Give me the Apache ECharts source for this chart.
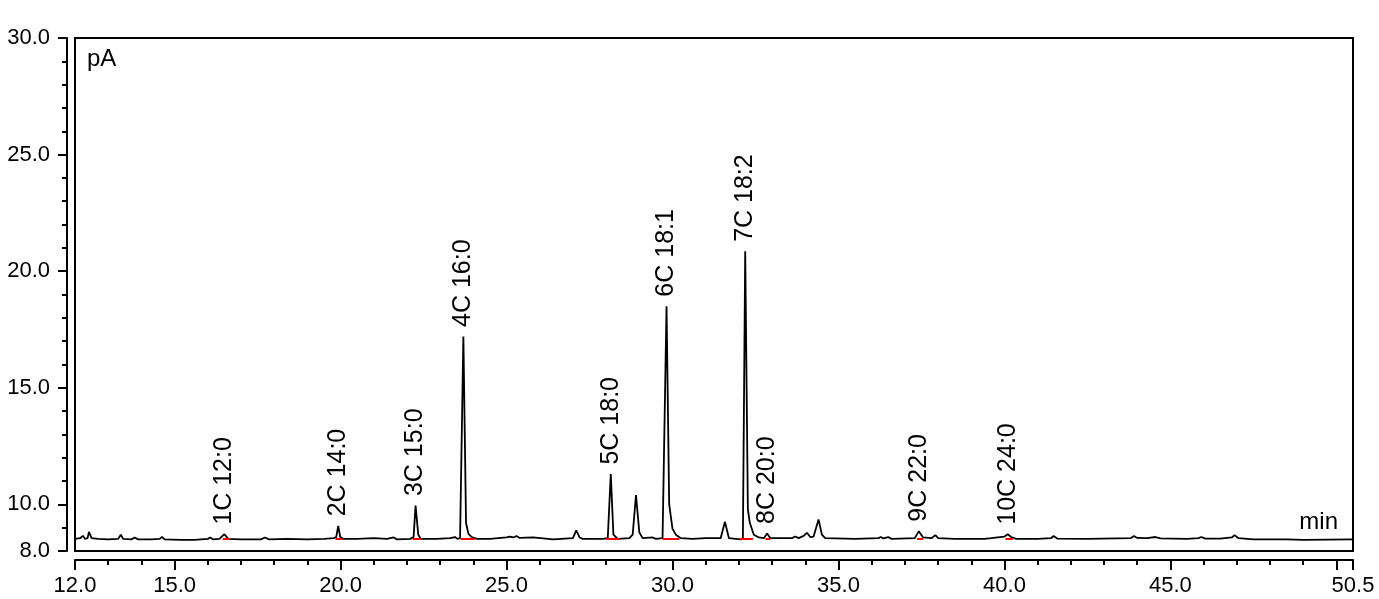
<!DOCTYPE html>
<html>
<head>
<meta charset="utf-8">
<script src="https://cdn.jsdelivr.net/npm/echarts@6/dist/echarts.min.js"></script>
<style>
  html, body { margin: 0; padding: 0; background: #fff; }
  #chart { width: 1379px; height: 599px; }
</style>
</head>
<body>
<div id="chart"></div>
<script>
// chromatogram trace (retention time in min, signal in pA)
const traceTime = [
  12.0, 12.15, 12.24, 12.3, 12.38, 12.42, 12.5, 12.7, 13.0, 13.3, 13.38, 13.45, 13.7, 13.8, 13.9,
  14.3, 14.55, 14.62, 14.7, 15.2, 15.6, 16.0, 16.08, 16.15, 16.35, 16.5, 16.62, 17.0, 17.6, 17.72,
  17.85, 18.4, 19.0, 19.5, 19.8, 19.87, 19.93, 19.99, 20.08, 20.5, 21.0, 21.4, 21.6, 21.7, 22.1,
  22.2, 22.26, 22.34, 22.42, 22.9, 23.3, 23.45, 23.52, 23.6, 23.7, 23.78, 23.85, 23.95, 24.1, 24.5,
  25.0, 25.1, 25.2, 25.3, 25.4, 25.8, 25.85, 26.4, 27.0, 27.1, 27.2, 27.3, 27.9, 28.05, 28.14,
  28.22, 28.35, 28.7, 28.8, 28.9, 29.0, 29.1, 29.4, 29.5, 29.7, 29.82, 29.9, 30.0, 30.1, 30.25,
  30.6, 31.0, 31.45, 31.58, 31.7, 32.05, 32.12, 32.19, 32.27, 32.33, 32.45, 32.6, 32.75, 32.85, 32.95,
  33.6, 33.7, 33.8, 33.95, 34.05, 34.15, 34.25, 34.4, 34.5, 34.6, 35.5, 36.2, 36.28, 36.35, 36.5,
  36.6, 37.3, 37.42, 37.55, 37.8, 37.92, 38.0, 38.5, 39.4, 39.6, 40.0, 40.1, 40.2, 40.35, 41.0,
  41.4, 41.48, 41.6, 42.5, 43.8, 43.9, 44.0, 44.3, 44.55, 44.7, 45.5, 45.85, 45.93, 46.05, 46.5,
  46.85, 46.93, 47.05, 47.5, 48.5, 49.0, 50.5
];
const traceSignal = [
  8.52, 8.55, 8.65, 8.52, 8.55, 8.82, 8.55, 8.52, 8.5, 8.52, 8.7, 8.52, 8.5, 8.58, 8.5,
  8.5, 8.52, 8.6, 8.5, 8.48, 8.48, 8.52, 8.58, 8.5, 8.52, 8.72, 8.52, 8.5, 8.5, 8.58,
  8.5, 8.52, 8.5, 8.52, 8.55, 8.6, 9.08, 8.6, 8.52, 8.52, 8.55, 8.52, 8.58, 8.5, 8.52,
  8.6, 9.95, 8.7, 8.52, 8.52, 8.55, 8.6, 8.52, 8.55, 17.2, 9.2, 8.75, 8.6, 8.52, 8.52,
  8.58, 8.62, 8.58, 8.64, 8.56, 8.58, 8.52, 8.5, 8.55, 8.88, 8.58, 8.52, 8.52, 8.55, 11.3,
  8.7, 8.52, 8.55, 8.7, 10.4, 8.8, 8.55, 8.58, 8.52, 8.55, 18.5, 10.0, 8.95, 8.7, 8.55,
  8.52, 8.55, 8.55, 9.25, 8.55, 8.5, 8.55, 20.85, 9.8, 9.2, 8.7, 8.58, 8.55, 8.75, 8.55,
  8.55, 8.62, 8.55, 8.65, 8.78, 8.6, 8.62, 9.35, 8.7, 8.55, 8.52, 8.55, 8.6, 8.54, 8.6,
  8.52, 8.55, 8.85, 8.58, 8.55, 8.68, 8.55, 8.52, 8.52, 8.55, 8.62, 8.72, 8.6, 8.52, 8.52,
  8.55, 8.64, 8.53, 8.52, 8.55, 8.64, 8.56, 8.55, 8.6, 8.54, 8.52, 8.55, 8.6, 8.53, 8.53,
  8.58, 8.68, 8.55, 8.5, 8.5, 8.48, 8.5
];

// identified peaks
const peakNames = ['1C 12:0', '2C 14:0', '3C 15:0', '4C 16:0', '5C 18:0', '6C 18:1', '7C 18:2', '8C 20:0', '9C 22:0', '10C 24:0'];
const peakTime = [16.5, 19.93, 22.26, 23.7, 28.14, 29.82, 32.19, 32.85, 37.42, 40.1];
const peakApex = [8.72, 9.08, 9.95, 17.2, 11.3, 18.5, 20.85, 8.75, 8.85, 8.72];
// integration baselines (red)
const baseStart = [16.45, 19.85, 22.17, 23.62, 28.0, 29.7, 32.03, 32.8, 37.37, 40.03];
const baseEnd = [16.65, 20.06, 22.45, 24.04, 28.4, 30.2, 32.42, 32.95, 37.55, 40.25];
const baseLevel = 8.53;

// axis ticks
const xMajor = [12, 15, 20, 25, 30, 35, 40, 45, 50, 50.5];
const xLabels = [12, 15, 20, 25, 30, 35, 40, 45, 50.5];
const yMajor = [8, 10, 15, 20, 25, 30];

const FONT = 'Liberation Sans, Arial, Helvetica, sans-serif';

const chart = echarts.init(document.getElementById('chart'));

chart.setOption({
  animation: false,
  backgroundColor: '#fff',
  textStyle: { fontFamily: FONT, color: '#000' },
  title: {
    text: 'pA',
    left: 87,
    top: 47,
    padding: 0,
    textStyle: { fontFamily: FONT, fontSize: 24, fontWeight: 'normal', color: '#000' }
  },
  graphic: [{
    type: 'text',
    right: 41,
    top: 510,
    style: { text: 'min', fontFamily: FONT, fontSize: 24, fill: '#000' }
  }],
  grid: {
    left: 75,
    right: 26,
    top: 38,
    bottom: 48,
    show: true,
    borderColor: '#000',
    borderWidth: 2,
    backgroundColor: 'transparent'
  },
  xAxis: [{
    type: 'value',
    position: 'bottom',
    min: 12,
    max: 50.5,
    interval: 1,
    offset: 9,
    axisLine: { show: true, onZero: false, lineStyle: { color: '#000', width: 2 } },
    axisTick: { show: true, length: 10, customValues: xMajor, lineStyle: { color: '#000', width: 2 } },
    axisLabel: {
      customValues: xLabels,
      margin: 15,
      fontSize: 22,
      color: '#000',
      formatter: (v) => v.toFixed(1)
    },
    splitLine: { show: false }
  }, {
    type: 'value',
    position: 'bottom',
    min: 12,
    max: 50.5,
    interval: 1,
    offset: 9,
    axisLine: { show: false, onZero: false },
    axisTick: { show: true, length: 5, lineStyle: { color: '#000', width: 2 } },
    axisLabel: { show: false },
    splitLine: { show: false }
  }],
  yAxis: [{
    type: 'value',
    position: 'left',
    min: 8,
    max: 30,
    interval: 1,
    offset: 8,
    axisLine: { show: true, onZero: false, lineStyle: { color: '#000', width: 2 } },
    axisTick: { show: true, length: 9, customValues: yMajor, lineStyle: { color: '#000', width: 2 } },
    axisLabel: {
      customValues: yMajor,
      margin: 17,
      fontSize: 22,
      color: '#000',
      formatter: (v) => v.toFixed(1)
    },
    splitLine: { show: false }
  }, {
    type: 'value',
    position: 'left',
    min: 8,
    max: 30,
    interval: 1,
    offset: 8,
    axisLine: { show: false, onZero: false },
    axisTick: { show: true, length: 5, lineStyle: { color: '#000', width: 2 } },
    axisLabel: { show: false },
    splitLine: { show: false }
  }],
  series: [{
    type: 'line',
    xAxisIndex: 0,
    yAxisIndex: 0,
    data: traceTime.map((t, i) => [t, traceSignal[i]]),
    showSymbol: false,
    smooth: false,
    lineStyle: { color: '#000', width: 1.8 },
    markLine: {
      silent: true,
      symbol: 'none',
      label: { show: false },
      lineStyle: { color: '#ff0000', width: 2, type: 'solid' },
      data: baseStart.map((s, i) => [{ coord: [s, baseLevel] }, { coord: [baseEnd[i], baseLevel] }])
    },
    z: 3
  }, {
    type: 'scatter',
    xAxisIndex: 0,
    yAxisIndex: 0,
    symbolSize: 1,
    itemStyle: { color: 'rgba(0,0,0,0)', opacity: 1 },
    data: peakTime.map((t, i) => ({ value: [t, peakApex[i]], name: peakNames[i] })),
    label: {
      show: true,
      position: 'top',
      distance: 9,
      rotate: 90,
      align: 'left',
      verticalAlign: 'middle',
      fontSize: 25,
      fontFamily: FONT,
      color: '#000',
      opacity: 1,
      formatter: (p) => p.name
    },
    z: 4
  }]
});
</script>
</body>
</html>
